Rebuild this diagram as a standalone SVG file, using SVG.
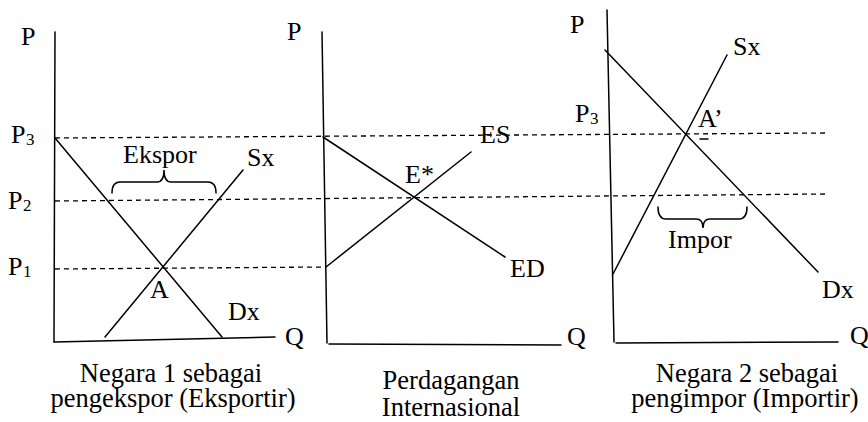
<svg xmlns="http://www.w3.org/2000/svg" width="868" height="422" viewBox="0 0 868 422">
<style>
.ln{stroke:#000;stroke-width:1.5;fill:none;stroke-linecap:round}
.ds{stroke:#000;stroke-width:1.3;fill:none;stroke-dasharray:5,4}
text{font-family:"Liberation Serif","Times New Roman",serif;font-size:26px;fill:#000}
.sub{font-size:17px}
.cap{text-anchor:middle;font-size:26.5px}
</style>
<rect width="868" height="422" fill="#fff"/>
<g id="connectors">
<line class="ds" x1="55" y1="138" x2="825" y2="133"/>
<line class="ds" x1="55" y1="201" x2="825" y2="194"/>
<line class="ds" x1="55" y1="269" x2="325" y2="267"/>
</g>
<g id="panel1">
<line class="ln" x1="55" y1="32" x2="54" y2="342"/>
<line class="ln" x1="54" y1="342" x2="275" y2="337"/>
<line class="ln" x1="55" y1="138" x2="222" y2="337"/>
<line class="ln" x1="105" y1="337" x2="243" y2="170"/>
<path class="ln" d="M112,193 Q112,182 120,182 L157,182 Q164,182 164,170 Q164,182 171,182 L208,182 Q216,182 216,193"/>
<text x="21" y="45">P</text>
<text x="11" y="143">P</text><text class="sub" x="26" y="145">3</text>
<text x="8" y="209">P</text><text class="sub" x="23" y="211">2</text>
<text x="8" y="275">P</text><text class="sub" x="23" y="277">1</text>
<text x="123" y="163">Ekspor</text>
<text x="247" y="166">Sx</text>
<text x="150" y="298">A</text>
<text x="228" y="320">Dx</text>
<text x="285" y="345">Q</text>
<text class="cap" x="171" y="382">Negara 1 sebagai</text>
<text class="cap" x="173" y="407">pengekspor (Eksportir)</text>
</g>
<g id="panel2">
<line class="ln" x1="322" y1="32" x2="327" y2="343"/>
<line class="ln" x1="329" y1="344" x2="561" y2="345"/>
<line class="ln" x1="323" y1="137" x2="505" y2="257"/>
<line class="ln" x1="326" y1="267" x2="471" y2="152"/>
<text x="287" y="40">P</text>
<text x="480" y="143">ES</text>
<text x="405" y="183">E*</text>
<text x="510" y="277">ED</text>
<text x="567" y="345">Q</text>
<text class="cap" x="451" y="389">Perdagangan</text>
<text class="cap" x="451" y="416">Internasional</text>
</g>
<g id="panel3">
<line class="ln" x1="607" y1="10" x2="614" y2="342"/>
<line class="ln" x1="616" y1="343" x2="838" y2="342"/>
<line class="ln" x1="605" y1="50" x2="818" y2="272"/>
<line class="ln" x1="613" y1="274" x2="727" y2="55"/>
<line class="ln" x1="700" y1="139" x2="708" y2="139"/>
<path class="ln" d="M658,207 Q658,219 666,219 L696,219 Q703,219 703,228 Q703,219 710,219 L739,219 Q747,219 747,207"/>
<text x="570" y="33">P</text>
<text x="575" y="122">P</text><text class="sub" x="590" y="124">3</text>
<text x="733" y="55">Sx</text>
<text x="698" y="127">A’</text>
<text x="668" y="248">Impor</text>
<text x="822" y="298">Dx</text>
<text x="850" y="344">Q</text>
<text class="cap" x="747" y="382">Negara 2 sebagai</text>
<text class="cap" x="745" y="407">pengimpor (Importir)</text>
</g>
</svg>
